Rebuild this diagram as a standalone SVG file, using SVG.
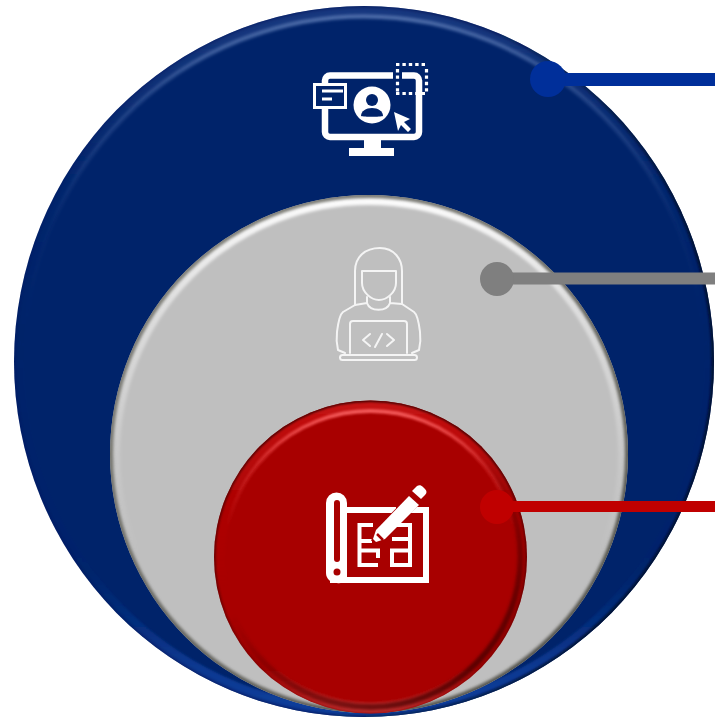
<svg xmlns="http://www.w3.org/2000/svg" width="715" height="717" viewBox="0 0 715 717">
<style>
.ln{fill:none;stroke-linecap:butt}
.wht{fill:#fff}
.pl{fill:none;stroke:#fff;stroke-width:4}
.pr{fill:none;stroke:#f4f4f4;stroke-width:2;stroke-linejoin:round;stroke-linecap:round}
.ring{fill:none}
</style>
<defs>
<linearGradient id="bHi" x1="0" y1="0" x2="0" y2="1"><stop offset="0" stop-color="#6f8cc4" stop-opacity=".7"/><stop offset=".12" stop-color="#6f8cc4" stop-opacity=".3"/><stop offset=".3" stop-color="#6f8cc4" stop-opacity=".04"/><stop offset=".45" stop-color="#6f8cc4" stop-opacity="0"/></linearGradient>
<linearGradient id="bBand" x1="0" y1="0" x2="0" y2="1"><stop offset="0" stop-color="#2a4a90" stop-opacity=".55"/><stop offset=".2" stop-color="#2a4a90" stop-opacity=".12"/><stop offset=".4" stop-color="#0e3a90" stop-opacity="0"/><stop offset=".8" stop-color="#0e3a90" stop-opacity=".05"/><stop offset=".93" stop-color="#0e3f9c" stop-opacity=".75"/><stop offset="1" stop-color="#0e3f9c"/></linearGradient>
<linearGradient id="bEdge" x1="0" y1="0" x2="1" y2=".25"><stop offset="0" stop-color="#001a55" stop-opacity=".1"/><stop offset=".65" stop-color="#00123c" stop-opacity=".3"/><stop offset="1" stop-color="#000c2c" stop-opacity=".9"/></linearGradient>

<linearGradient id="gHi" x1="0" y1="0" x2="0" y2="1"><stop offset="0" stop-color="#fff" stop-opacity=".95"/><stop offset=".2" stop-color="#fff" stop-opacity=".5"/><stop offset=".5" stop-color="#fff" stop-opacity=".15"/><stop offset=".7" stop-color="#fff" stop-opacity="0"/></linearGradient>
<linearGradient id="gEdge" x1="0" y1="0" x2=".7" y2="1"><stop offset="0" stop-color="#77776f" stop-opacity=".8"/><stop offset=".5" stop-color="#66665f" stop-opacity=".9"/><stop offset="1" stop-color="#55554e"/></linearGradient>

<linearGradient id="rHi" x1="0" y1="0" x2="0" y2="1"><stop offset="0" stop-color="#ff6a6a" stop-opacity=".8"/><stop offset=".2" stop-color="#ff5a5a" stop-opacity=".25"/><stop offset=".4" stop-color="#ff5a5a" stop-opacity="0"/></linearGradient>
<linearGradient id="rBand" x1="0" y1="0" x2="0" y2="1"><stop offset="0" stop-color="#d01818" stop-opacity=".7"/><stop offset=".3" stop-color="#c81818" stop-opacity=".2"/><stop offset=".6" stop-color="#c81818" stop-opacity="0"/><stop offset=".85" stop-color="#c81818" stop-opacity="0"/><stop offset="1" stop-color="#c83030" stop-opacity=".9"/></linearGradient>
<linearGradient id="rDark" x1=".15" y1=".1" x2=".75" y2="1"><stop offset=".4" stop-color="#400000" stop-opacity="0"/><stop offset=".7" stop-color="#400000" stop-opacity=".45"/><stop offset="1" stop-color="#400000" stop-opacity=".8"/></linearGradient>
<linearGradient id="rEdge" x1="0" y1="0" x2="0" y2="1"><stop offset="0" stop-color="#3c0000" stop-opacity=".9"/><stop offset=".6" stop-color="#3c0000" stop-opacity=".6"/><stop offset="1" stop-color="#3c0000" stop-opacity=".15"/></linearGradient>

<filter id="bl" x="-5%" y="-5%" width="110%" height="110%"><feGaussianBlur stdDeviation="1.8"/></filter>
<filter id="bs" x="-5%" y="-5%" width="110%" height="110%"><feGaussianBlur stdDeviation="1"/></filter>
<clipPath id="cb"><ellipse cx="364" cy="361.500" rx="350" ry="355.500"/></clipPath>
<clipPath id="cg"><circle cx="369" cy="454" r="259"/></clipPath>
<clipPath id="cr"><circle cx="370.500" cy="557" r="156.500"/></clipPath>
</defs>

<g id="node-outer">
<ellipse cx="364" cy="361.500" rx="350" ry="355.500" fill="#00236a"/>
<g clip-path="url(#cb)">
<ellipse cx="364" cy="361.500" rx="345" ry="350.500" class="ring" stroke="url(#bBand)" stroke-width="10" filter="url(#bs)"/>
<ellipse cx="364" cy="361.500" rx="340" ry="345" class="ring" stroke="url(#bHi)" stroke-width="4" filter="url(#bl)"/>
<ellipse cx="364" cy="361.500" rx="350" ry="355.500" class="ring" stroke="url(#bEdge)" stroke-width="5" filter="url(#bs)"/>
</g>
<g id="icon-monitor">
<path class="ln" stroke="#fff" stroke-width="6.500" d="M393 75.500H330a5 5 0 0 0-5 5V132a5 5 0 0 0 5 5H414a5 5 0 0 0 5-5V80.500a5 5 0 0 0-5-5H402"/>
<rect x="364" y="140" width="17" height="9" class="wht"/>
<rect x="349" y="148" width="45" height="8" class="wht"/>
<rect x="314.500" y="84.500" width="31" height="23" fill="#00236a" stroke="#fff" stroke-width="3"/>
<path d="M322 91H343M322 99H332" class="ln" stroke="#fff" stroke-width="3"/>
<circle cx="372" cy="105" r="18.500" class="wht"/>
<circle cx="372" cy="100" r="6" fill="#00236a"/>
<path d="M361 116c0-5 5-8 11-8s11 3 11 8c-3 1-19 1-22 0z" fill="#00236a"/>
<path d="M394 112l16 7-6 3 7 7-3 3-7-7-3 6z" class="wht"/>
<path d="M396 64.500H428M396 93.500H428M397.500 69V92M426.500 69V92" class="ln" stroke="#fff" stroke-width="3.200" stroke-dasharray="3.400 3"/>
</g>
</g>

<g id="node-middle">
<circle cx="369" cy="454" r="259" fill="#bfbfbf"/>
<g clip-path="url(#cg)">
<circle cx="369" cy="454" r="253" class="ring" stroke="url(#gHi)" stroke-width="8" filter="url(#bl)"/>
<circle cx="369" cy="454" r="259" class="ring" stroke="url(#gEdge)" stroke-width="6" filter="url(#bl)"/>
</g>
<g id="icon-developer">
<path class="pr" d="M355 305V271C355 257 365 248 380 248C394 248 402 259 402 271V304"/>
<path class="pr" d="M362 271H396V283c0 9-9 17-17 17s-17-8-17-17z"/>
<path class="pr" d="M367 297V303c3 9 20 9 23 0V297M367 303l-12 2M390 303l12 1"/>
<path class="pr" d="M355 305l-12 7c-4 3-5 12-6 20-1 8 0 14 1 18l7 3M402 304l12 8c4 3 5 12 6 20 1 8 0 14-1 18l-7 3"/>
<path class="pr" d="M350 353V324a3 3 0 0 1 3-3H404a3 3 0 0 1 3 3V353"/>
<rect x="340" y="355" width="77" height="5" rx="2.500" class="pr"/>
<path class="pr" d="M370 334l-7 6 7 6M387 334l7 6-7 6M382 334l-7 13"/>
</g>
</g>

<g id="node-inner">
<circle cx="370.500" cy="557" r="156.500" fill="#a80000"/>
<g clip-path="url(#cr)">
<circle cx="370.500" cy="557" r="151" class="ring" stroke="url(#rBand)" stroke-width="11" filter="url(#bs)"/>
<circle cx="370.500" cy="557" r="146" class="ring" stroke="url(#rHi)" stroke-width="4" filter="url(#bs)"/>
<circle cx="370.500" cy="557" r="150" class="ring" stroke="url(#rDark)" stroke-width="6" filter="url(#bl)"/>
<circle cx="370.500" cy="557" r="156.500" class="ring" stroke="url(#rEdge)" stroke-width="3" filter="url(#bs)"/>
</g>
<g id="icon-blueprint">
<path class="wht" d="M347 507H396V513H347zM411 507H429V583H330V577H423V513H411z"/>
<path class="wht" d="M326 503a10.500 10.500 0 0 1 21 0V578a9 9 0 0 1-10 5c-6 0-11-4-11-10z"/>
<rect x="334" y="500" width="6" height="62" rx="3" fill="#a80000"/>
<circle cx="337" cy="572" r="3.500" fill="#a80000"/>
<path class="pl" d="M373 525H359.500V565H378M360 541H372M360 550.500H378V558M392 525H410V565H392V550.500H410M392 539H410"/>
<path d="M371 541l4-11 35-36 10 10-36 34z" fill="#a80000"/>
<path class="wht" d="M373 539l3-9 33-34 10 9-34 34-9 3z"/>
<path d="M377 534l6 6" stroke="#a80000" stroke-width="2.500" fill="none"/>
<path d="M412 491l5-5c2-1 4-1 6 1l2 2c2 2 2 4 0 6l-4 4z" class="wht"/>
</g>
</g>

<g id="connectors">
<path class="ln" stroke="#002f9a" stroke-width="13" d="M548 79.500H715"/>
<circle cx="548" cy="79" r="18" fill="#002f9a"/>
<path class="ln" stroke="#7f7f7f" stroke-width="12" d="M497 278.500H715"/>
<circle cx="497" cy="279" r="17" fill="#7f7f7f"/>
<path class="ln" stroke="#c00000" stroke-width="11" d="M497 506.500H715"/>
<circle cx="497" cy="507" r="17" fill="#c00000"/>
</g>
</svg>
